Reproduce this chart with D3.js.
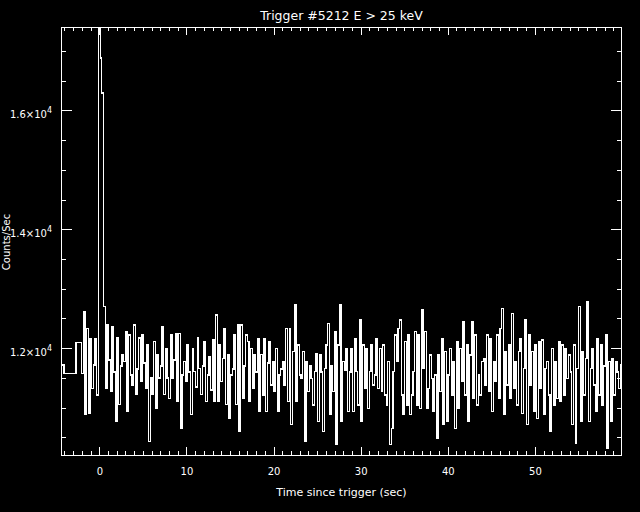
<!DOCTYPE html>
<html>
<head>
<meta charset="utf-8">
<script src="https://cdn.jsdelivr.net/npm/d3@7"></script>
<style>
  html, body { margin: 0; padding: 0; background: #000; }
  svg { display: block; }
  text { fill: #fff; font-family: "DejaVu Sans", "Liberation Sans", sans-serif; }
</style>
</head>
<body>
<svg id="chart" width="640" height="512"></svg>
<script>
// ---------------- data ----------------
const titleText = "Trigger #5212 E > 25 keV";
const xLabel = "Time since trigger (sec)";
const yLabel = "Counts/Sec";

// coarse pre-trigger bins (start times, sec) and rates
const preTimes = [-4.4, -4.04, -2.68];
const preCounts = [11720, 11580, 12100];

// fine-resolution bins
const fineStart = -2.016;
const fineWidth = 0.192;
const fineCounts = [
  // strip 1
  11580, 12616, 10880, 12336, 10908, 12168, 11328, 11720, 12168, 11216,
  17900, 16880, 16290, 12700,
  11330, 12390, 11800, 11270, 12360, 11600, 10770, 12170, 11050, 11700,
  11890, 11780, 12280, 10940, 12220, 11550, 11380, 12390, 11220, 11650,
  12170, 11440, 12220, 11750, 11330, 12060, 10430, 11500, 11220, 12110,
  10990, 11890, 11500, 11700, 12360, 11220, 12000, 11500, 11160, 12220,
  11500, 11800, 12250, 11100, 12250, 10660, 11550, 11780, 11450, 12060,
  11600, 10880, 12000, 11610, 11350, 12170, 11660, 11220, 11700, 12110,
  11100, 11550, 11850, 11300, 12150, 11100,
  // strip 2
  12560, 11100, 12060, 11440, 11830, 12336, 11050, 11890, 10824, 11552,
  11650, 12224, 11050, 12392, 10600, 12392, 11160, 11700, 12224, 12112,
  11104, 12000, 11328, 11890, 11600, 12168, 10936, 11890, 11216, 12168,
  10936, 11750, 12112, 11384, 11776, 11272, 12000, 10936, 11552, 11650,
  11776, 11384, 12336, 11104, 12336, 10712, 11944, 12728, 11104, 12056,
  11550, 11496, 11944, 10432, 11776, 11272, 11700, 11496, 11048, 11608,
  11916, 10768, 11888, 11600, 10600, 11664, 12056, 12420, 10880, 11700,
  11272, 12280, 10376, 12056, 12728, 10768, 11776, 11620, 12000, 10936,
  11600,
  // strip 3
  12000, 10936, 12168, 11608, 11048, 12476, 10768, 12056, 11328, 12000,
  10992, 11608, 12056, 11384, 11552, 12168, 11328, 12000, 11272, 12056,
  11216, 11048, 11776, 10376, 10656, 11608, 12224, 11776, 12336, 12476,
  11216, 10880, 12112, 11048, 12224, 10880, 11216, 11608, 12280, 11048,
  12224, 10992, 12644, 11664, 12280, 10992, 11328, 11888, 11496, 10936,
  11552, 10488, 11888, 11272, 12168, 10712, 11944, 10768, 11552, 12000,
  11216, 11776, 10656, 12112, 10992, 12000, 11440, 12448, 11216, 12056,
  10768, 11888, 12448, 11160, 12224, 11048, 11552, 11216, 11776, 11832,
  11384,
  // strip 4
  12224, 11272, 12168, 10936, 11776, 11440, 12224, 11160, 12336, 12672,
  10880, 11944, 11384, 12056, 11160, 12588, 11328, 11776, 11048, 11944,
  12168, 10908, 11664, 12476, 10712, 12224, 11384, 11944, 10936, 12056,
  10824, 12112, 11328, 12140, 10880, 11664, 11776, 11216, 10600, 12000,
  11048, 11776, 11160, 12112, 11104, 12056, 11216, 12000, 11496, 11888,
  11600, 10712, 12056, 10404, 11664, 12700, 10768, 11944, 11216, 11832,
  12784, 10768, 11664, 12000, 11384, 10936, 12168, 11216, 12056, 11048,
  11700, 12224, 10320, 11776, 10768, 11832, 11216, 11776, 11600, 11328,
  11720, 11272, 11500
];

const xMajorTicks = [0, 10, 20, 30, 40, 50];
const yMajorTicks = [12000, 14000, 16000];
const yTickLabels = ["1.2\u00d710", "1.4\u00d710", "1.6\u00d710"];
const yTickExp = "4";

// ---------------- layout ----------------
(function () {
const svg = d3.select("#chart");
const W = 640, H = 512;
const mLeft = 61, mRight = 622, mTop = 27, mBottom = 455;

svg.append("rect").attr("width", W).attr("height", H).attr("fill", "#000");

const x = d3.scaleLinear().domain([-4.4, 60]).range([mLeft, mRight]);
const y = d3.scaleLinear().domain([10205, 17400]).range([mBottom, mTop]);

// build bins
const bins = [];
preTimes.forEach((t, i) => bins.push({ t: t, v: preCounts[i] }));
fineCounts.forEach((v, i) => bins.push({ t: fineStart + i * fineWidth, v: v }));
const lastEnd = fineStart + fineCounts.length * fineWidth;
bins.push({ t: lastEnd, v: fineCounts[fineCounts.length - 1] });

svg.append("defs").append("clipPath").attr("id", "clip")
  .append("rect").attr("x", mLeft).attr("y", mTop)
  .attr("width", mRight - mLeft).attr("height", mBottom - mTop);

const line = d3.line()
  .x(d => x(d.t))
  .y(d => y(d.v))
  .curve(d3.curveStepAfter);

svg.append("path")
  .datum(bins)
  .attr("clip-path", "url(#clip)")
  .attr("fill", "none")
  .attr("stroke", "#fff")
  .attr("stroke-width", 1.3)
  .attr("shape-rendering", "crispEdges")
  .attr("d", line);

// frame
svg.append("rect")
  .attr("x", mLeft + 0.5).attr("y", mTop + 0.5)
  .attr("width", mRight - mLeft - 1).attr("height", mBottom - mTop)
  .attr("fill", "none").attr("stroke", "#fff").attr("stroke-width", 1)
  .attr("shape-rendering", "crispEdges");

function styleAxis(g) {
  g.select(".domain").remove();
  g.selectAll(".tick line").attr("stroke", "#fff").attr("stroke-width", 1)
    .attr("shape-rendering", "crispEdges");
}

const xMinor = d3.range(-4, 60, 1).filter(v => v % 10 !== 0);
const yMinor = d3.range(10500, 17400, 500).filter(v => v % 2000 !== 0);

// bottom axis
svg.append("g").attr("transform", `translate(0,${mBottom})`)
  .call(d3.axisBottom(x).tickValues(xMajorTicks).tickSize(-8).tickPadding(13).tickFormat(d3.format("d")))
  .call(styleAxis)
  .call(g => g.selectAll("text").attr("font-size", 10).attr("fill", "#fff")
    .attr("font-family", "DejaVu Sans, sans-serif"));
svg.append("g").attr("transform", `translate(0,${mBottom})`)
  .call(d3.axisBottom(x).tickValues(xMinor).tickSize(-4).tickFormat(""))
  .call(styleAxis);

// top axis
svg.append("g").attr("transform", `translate(0,${mTop})`)
  .call(d3.axisTop(x).tickValues(xMajorTicks).tickSize(-8).tickFormat(""))
  .call(styleAxis);
svg.append("g").attr("transform", `translate(0,${mTop})`)
  .call(d3.axisTop(x).tickValues(xMinor).tickSize(-4).tickFormat(""))
  .call(styleAxis);

// left axis
const yAxisG = svg.append("g").attr("transform", `translate(${mLeft},0)`)
  .call(d3.axisLeft(y).tickValues(yMajorTicks).tickSize(-11).tickPadding(9).tickFormat(""))
  .call(styleAxis);
yAxisG.selectAll(".tick").each(function (d, i) {
  const t = d3.select(this).select("text");
  t.attr("font-size", 10).attr("fill", "#fff").attr("dy", "0.68em")
    .attr("font-family", "DejaVu Sans, sans-serif");
  t.text(null);
  t.append("tspan").text(yTickLabels[i]);
  t.append("tspan").attr("dy", "-0.55em").attr("font-size", 8).text(yTickExp);
});
svg.append("g").attr("transform", `translate(${mLeft},0)`)
  .call(d3.axisLeft(y).tickValues(yMinor).tickSize(-5).tickFormat(""))
  .call(styleAxis);

// right axis
svg.append("g").attr("transform", `translate(${mRight},0)`)
  .call(d3.axisRight(y).tickValues(yMajorTicks).tickSize(-11).tickFormat(""))
  .call(styleAxis);
svg.append("g").attr("transform", `translate(${mRight},0)`)
  .call(d3.axisRight(y).tickValues(yMinor).tickSize(-5).tickFormat(""))
  .call(styleAxis);

// titles
svg.append("text")
  .attr("x", (mLeft + mRight) / 2).attr("y", 20)
  .attr("text-anchor", "middle").attr("font-size", 12.5)
  .text(titleText);

svg.append("text")
  .attr("x", (mLeft + mRight) / 2).attr("y", 496)
  .attr("text-anchor", "middle").attr("font-size", 11)
  .text(xLabel);

svg.append("text")
  .attr("transform", `translate(10,242) rotate(-90)`)
  .attr("text-anchor", "middle").attr("font-size", 10)
  .text(yLabel);
})();
</script>
</body>
</html>
